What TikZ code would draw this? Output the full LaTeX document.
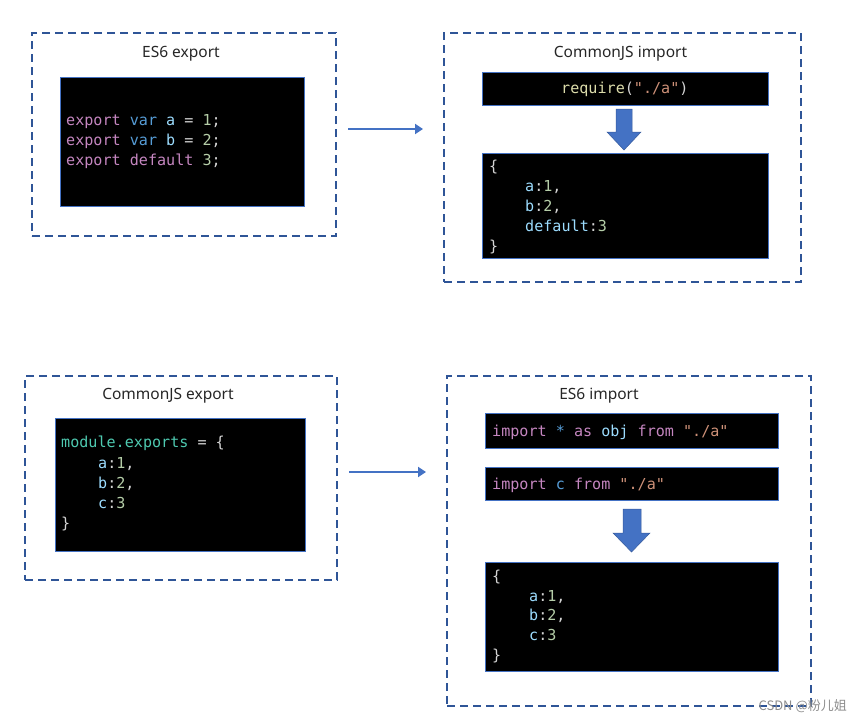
\documentclass[tikz,border=0pt]{standalone}
\usepackage{fontspec}
\setmainfont{Noto Sans}
\newfontfamily\codefont{DejaVu Sans Mono}
\newfontfamily\cjkfont{Noto Sans CJK SC}
\usetikzlibrary{arrows.meta}
\definecolor{dashblue}{HTML}{2F5597}
\definecolor{boxblue}{HTML}{4472C4}
\definecolor{arrblue}{HTML}{4472C4}
\definecolor{ckwc}{HTML}{C586C0}
\definecolor{cvarc}{HTML}{569CD6}
\definecolor{cidc}{HTML}{9CDCFE}
\definecolor{cnumc}{HTML}{B5CEA8}
\definecolor{cstrc}{HTML}{CE9178}
\definecolor{cfnc}{HTML}{DCDCAA}
\definecolor{ctyc}{HTML}{4EC9B0}
\definecolor{cpunc}{HTML}{D4D4D4}
\newcommand\ckw[1]{\textcolor{ckwc}{#1}}
\newcommand\cvar[1]{\textcolor{cvarc}{#1}}
\newcommand\cid[1]{\textcolor{cidc}{#1}}
\newcommand\cnum[1]{\textcolor{cnumc}{#1}}
\newcommand\cstr[1]{\textcolor{cstrc}{#1}}
\newcommand\cfn[1]{\textcolor{cfnc}{#1}}
\newcommand\cty[1]{\textcolor{ctyc}{#1}}
\tikzset{
  frame/.style={draw=dashblue, line width=2pt, dash pattern=on 8pt off 5pt, anchor=north west, inner sep=0pt},
  codebox/.style={draw=boxblue, fill=black, line width=1pt, anchor=north west, inner sep=0pt},
  title/.style={font=\fontsize{15.5}{18}\selectfont, text=black!85, inner sep=0pt, anchor=base},
  code/.style={font=\codefont\fontsize{15.1}{18}\selectfont, anchor=base west, inner sep=0pt, text=cpunc},
  link/.style={draw=arrblue, line width=2.5pt, -{Triangle[length=8pt,width=10pt]}},
  blockarrow/.style={fill=arrblue, draw=arrblue!80!black, line width=0.5pt}
}
\begin{document}
\begin{tikzpicture}[x=1pt,y=-1pt]
\useasboundingbox (0,0) rectangle (861,724);
% dashed frames
\node[frame, minimum width=304pt, minimum height=203pt] (f1) at (31,32) {};
\node[frame, minimum width=357pt, minimum height=249pt] (f2) at (443,32) {};
\node[frame, minimum width=312pt, minimum height=204pt] (f3) at (24,375) {};
\node[frame, minimum width=364pt, minimum height=330pt] (f4) at (446,375) {};
% titles
\node[title] (t1) at (181,57) {ES6 export};
\node[title] (t2) at (620.5,57) {CommonJS import};
\node[title] (t3) at (168,399) {CommonJS export};
\node[title] (t4) at (599,399) {ES6 import};
% code boxes
\node[codebox, minimum width=244pt, minimum height=129pt] (b1) at (60,77) {};
\node[codebox, minimum width=286pt, minimum height=33pt] (b2) at (482,72) {};
\node[codebox, minimum width=286pt, minimum height=105pt] (b3) at (482,153) {};
\node[codebox, minimum width=250pt, minimum height=133pt] (b4) at (55,418) {};
\node[codebox, minimum width=293pt, minimum height=35pt] (b5) at (485,413) {};
\node[codebox, minimum width=293pt, minimum height=33pt] (b6) at (485,467) {};
\node[codebox, minimum width=293pt, minimum height=109pt] (b7) at (485,562) {};
% ES6 export code
\node[code] (l11) at (66,125) {\ckw{export} \cvar{var} \cid{a} = \cnum{1};};
\node[code] (l12) at (66,145) {\ckw{export} \cvar{var} \cid{b} = \cnum{2};};
\node[code] (l13) at (66,165) {\ckw{export} \ckw{default} \cnum{3};};
% require
\node[code] (l21) at (561,93) {\cfn{require}(\cstr{"./a"})};
% result 1
\node[code] (l31) at (489,171) {\{};
\node[code] (l32) at (525,191) {\cid{a}:\cnum{1},};
\node[code] (l33) at (525,211) {\cid{b}:\cnum{2},};
\node[code] (l34) at (525,231) {\cid{default}:\cnum{3}};
\node[code] (l35) at (489,251) {\}};
% module.exports
\node[code] (l41) at (61,447) {\cty{module.exports} = \{};
\node[code] (l42) at (98,468) {\cid{a}:\cnum{1},};
\node[code] (l43) at (98,488) {\cid{b}:\cnum{2},};
\node[code] (l44) at (98,508) {\cid{c}:\cnum{3}};
\node[code] (l45) at (61,528) {\}};
% imports
\node[code] (l51) at (492,436) {\ckw{import} \cvar{*} \ckw{as} \cid{obj} \ckw{from} \cstr{"./a"}};
\node[code] (l61) at (492,489) {\ckw{import} \cvar{c} \ckw{from} \cstr{"./a"}};
% result 2
\node[code] (l71) at (492,581) {\{};
\node[code] (l72) at (529,601) {\cid{a}:\cnum{1},};
\node[code] (l73) at (529,620) {\cid{b}:\cnum{2},};
\node[code] (l74) at (529,640) {\cid{c}:\cnum{3}};
\node[code] (l75) at (492,660) {\}};
% arrows between frames
\coordinate (a1s) at (348,129);
\coordinate (a1e) at (423,129);
\coordinate (a2s) at (349,472);
\coordinate (a2e) at (426,472);
\draw[link] (a1s) -- (a1e);
\draw[link] (a2s) -- (a2e);
% block arrows
\path[blockarrow] (616,109) -- (632,109) -- (632,132) -- (641,132) -- (624,150) -- (607,132) -- (616,132) -- cycle;
\path[blockarrow] (623,509) -- (641,509) -- (641,533) -- (650,533) -- (631.5,552) -- (613,533) -- (623,533) -- cycle;
% watermark
\node[font=\cjkfont\fontsize{13}{15}\selectfont, text=black!45, anchor=east, inner sep=0pt] (wm) at (847,706) {CSDN @粉儿姐};
\end{tikzpicture}
\end{document}
